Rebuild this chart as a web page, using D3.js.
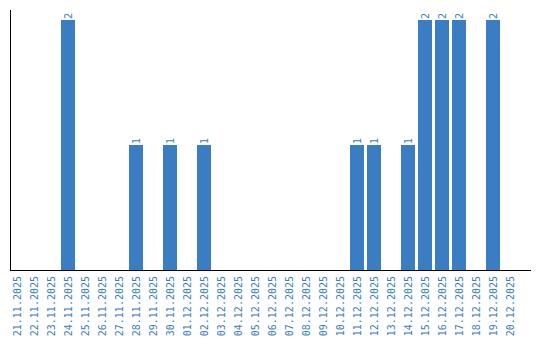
<!DOCTYPE html>
<meta charset="utf-8">
<head>
    <title>Daily counts</title>
</head>
<style>
    body { margin: 0; background: #fff; }
    text { font-family: "DejaVu Sans Mono", "Liberation Mono", monospace; }
</style>
<div id="chart"></div>
<script src="https://d3js.org/d3.v7.min.js"></script>
<script>

    var dates = ["21.11.2025", "22.11.2025", "23.11.2025", "24.11.2025", "25.11.2025",
        "26.11.2025", "27.11.2025", "28.11.2025", "29.11.2025", "30.11.2025",
        "01.12.2025", "02.12.2025", "03.12.2025", "04.12.2025", "05.12.2025",
        "06.12.2025", "07.12.2025", "08.12.2025", "09.12.2025", "10.12.2025",
        "11.12.2025", "12.12.2025", "13.12.2025", "14.12.2025", "15.12.2025",
        "16.12.2025", "17.12.2025", "18.12.2025", "19.12.2025", "20.12.2025"];
    var counts = [0, 0, 0, 2, 0, 0, 0, 1, 0, 1,
        0, 1, 0, 0, 0, 0, 0, 0, 0, 0,
        1, 1, 0, 1, 2, 2, 2, 0, 2, 0];

    var data = dates.map(function(d, i) { return { date: d, value: counts[i] }; });

    var width = 540, height = 340;
    var blue = "#3a7dc2";

    var svg = d3.select("#chart")
      .append("svg")
        .attr("width", width)
        .attr("height", height);

    var x = d3.scaleBand()
      .domain(dates)
      .range([10, 517])
      .paddingInner(3 / 17)
      .paddingOuter(0);

    var y = d3.scaleLinear()
      .domain([0, 2])
      .range([270, 20]);

    // bars
    svg.selectAll(".bar")
      .data(data.filter(function(d) { return d.value > 0; }))
      .enter().append("rect")
        .attr("class", "bar")
        .attr("x", function(d) { return x(d.date); })
        .attr("y", function(d) { return y(d.value); })
        .attr("width", x.bandwidth())
        .attr("height", function(d) { return y(0) - y(d.value); })
        .attr("fill", blue);

    // value labels
    svg.selectAll(".val")
      .data(data.filter(function(d) { return d.value > 0; }))
      .enter().append("text")
        .attr("class", "val")
        .attr("transform", function(d) {
            return "translate(" + (x(d.date) + x.bandwidth() / 2 + 4) + "," + (y(d.value) - 1) + ") rotate(-90)";
        })
        .attr("font-size", "10px")
        .attr("fill", blue)
        .text(function(d) { return d.value; });

    // x axis
    var xAxis = svg.append("g")
      .attr("transform", "translate(0,270)")
      .call(d3.axisBottom(x).tickSize(0).tickPadding(0));
    xAxis.select(".domain").remove();
    xAxis.selectAll("text")
      .attr("font-size", "10px")
      .attr("fill", blue)
      .attr("text-anchor", "end")
      .attr("dy", null)
      .attr("transform", "translate(4,6) rotate(-90)")
      .attr("y", 0);

    svg.append("line")
      .attr("x1", 10).attr("x2", 531)
      .attr("y1", 270.5).attr("y2", 270.5)
      .attr("stroke", "#000");

    svg.append("line")
      .attr("x1", 10.5).attr("x2", 10.5)
      .attr("y1", 10).attr("y2", 270)
      .attr("stroke", "#000");
</script>
